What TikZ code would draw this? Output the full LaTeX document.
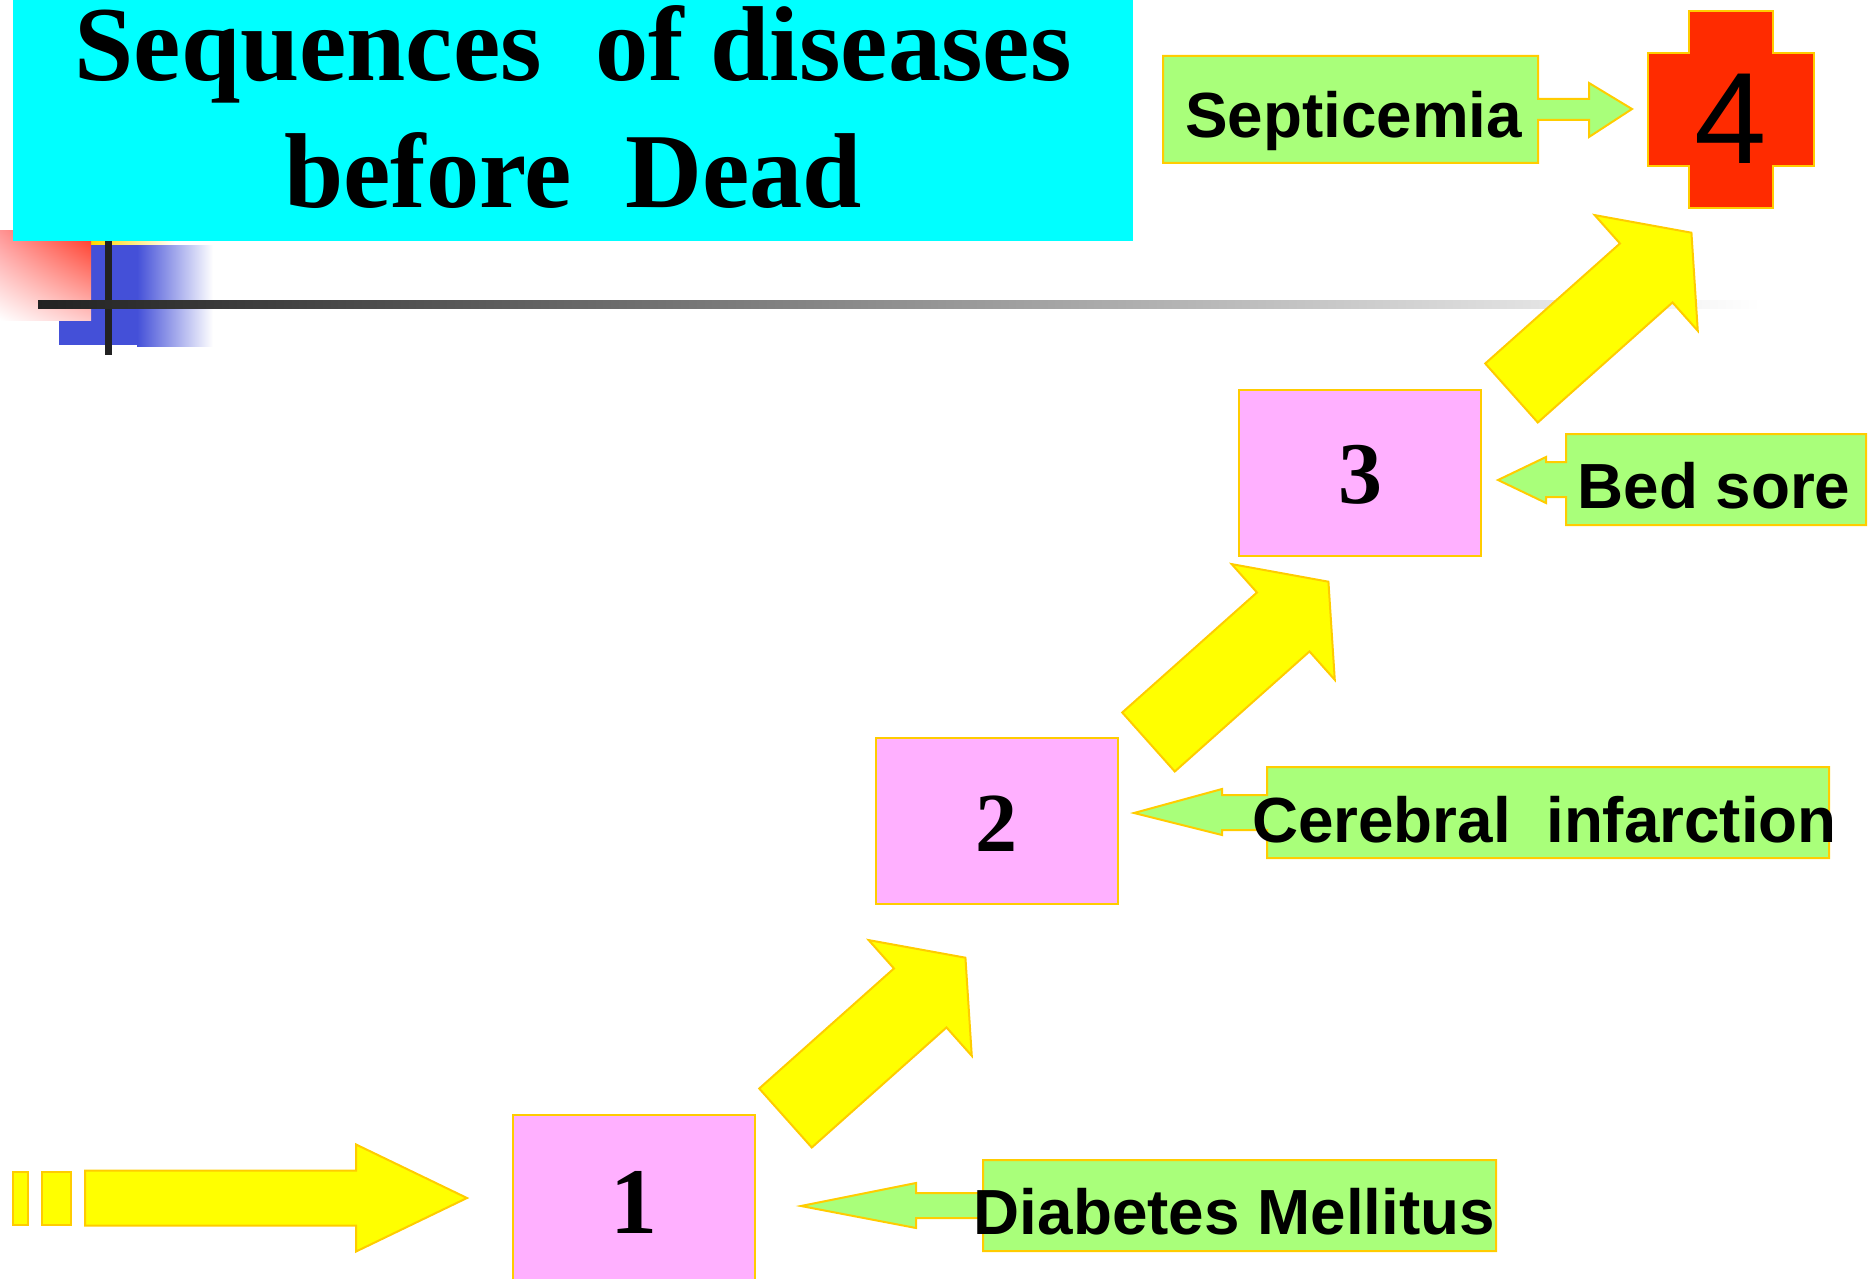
\documentclass[tikz,border=0pt]{standalone}
\usepackage{fontspec}
\setmainfont{Liberation Serif}
\newfontfamily\arialfont{Liberation Sans}
\definecolor{goldline}{RGB}{255,204,0}
\definecolor{titlecyan}{RGB}{0,255,255}
\definecolor{arrowyellow}{RGB}{255,255,0}
\definecolor{stagepink}{RGB}{255,176,255}
\definecolor{causegreen}{RGB}{169,255,122}
\definecolor{deadred}{RGB}{255,43,0}
\definecolor{markred}{RGB}{255,50,30}
\definecolor{markgold}{RGB}{255,215,0}
\definecolor{markblue}{RGB}{68,80,216}
\definecolor{markdark}{RGB}{34,34,34}
\usetikzlibrary{
  shapes.arrows,
  shadings
}

\begin{document}
\begin{tikzpicture}[
  x=1pt, y=-1pt,
  titlebox/.style={rectangle, fill=titlecyan, inner sep=0pt, outer sep=0pt, minimum width=1120pt, minimum height=241pt, align=center, text depth=28pt, font=\bfseries\fontsize{106.5}{127}\selectfont},
  stage/.style={rectangle, draw=goldline, line width=2pt, fill=stagepink, inner sep=0pt, outer sep=0pt, minimum width=242pt, minimum height=166pt},
  stagearrow/.style={single arrow, draw=goldline, line width=2pt, fill=arrowyellow, inner xsep=0pt, inner ysep=38.5pt, outer sep=0pt, anchor=tail, rotate=41.7, minimum height=241pt, single arrow head extend=38pt, single arrow tip angle=104},
  startarrow/.style={single arrow, draw=goldline, line width=2pt, fill=arrowyellow, inner xsep=0pt, inner ysep=26.5pt, outer sep=0pt, anchor=tail, minimum height=382pt, single arrow head extend=26pt, single arrow tip angle=51.5},
  startbar/.style={rectangle, draw=goldline, line width=2pt, fill=arrowyellow, inner sep=0pt, outer sep=0pt, minimum height=53pt},
  cause/.style={draw=goldline, line width=2pt, fill=causegreen, line join=miter},
  causetext/.style={inner sep=0pt, anchor=base, font=\arialfont\bfseries\fontsize{63.8}{64}\selectfont},
  dead/.style={draw=goldline, line width=2pt, fill=deadred},
  deadtext/.style={inner sep=0pt, anchor=base, font=\arialfont\fontsize{130}{130}\selectfont},
  markbar/.style={fill=markdark}
]
  \useasboundingbox (0,0) rectangle (1872,1279);
  \clip (0,0) rectangle (1872,1279);

  \shade[left color=markgold, right color=white] (91,241) rectangle (175,246);
  \fill[markblue] (59,245) rectangle (137,345);
  \shade[left color=markblue, right color=white] (137,245) rectangle (213,346);
  \shade[upper right=markred, upper left=red!42, lower left=white, lower right=red!22] (0,230) rectangle (91,320);
  \node[titlebox] (title) at (573,120.5) {Sequences\ \ of diseases\\before\ \ Dead};
  \fill[markbar] (105,241) rectangle (112,355);
  \shade[left color=markdark, middle color=black!24, right color=white] (38,300) rectangle (1760,308);

  \node[startbar, minimum width=15pt] (bar1) at (20.5,1198) {};
  \node[startbar, minimum width=29pt] (bar2) at (56.5,1198) {};
  \node[startarrow] (start) at (85,1198) {};

  \node[stage, text height=70pt, font=\bfseries\fontsize{94}{94}\selectfont] (stage1) at (634,1198) {1};
  \node[stage, text height=61pt, font=\bfseries\fontsize{84}{84}\selectfont] (stage2) at (996.5,820.5) {2};
  \node[stage, text height=63pt, font=\bfseries\fontsize{88}{88}\selectfont] (stage3) at (1360,472.5) {3};

  \node[stagearrow] (up1) at (785.5,1118) {};
  \node[stagearrow] (up2) at (1148.5,742) {};
  \node[stagearrow] (up3) at (1511.5,393) {};

  \draw[cause] (983,1160) -- (1496,1160) -- (1496,1251) -- (983,1251) -- (983,1218) -- (916,1218) -- (916,1228) -- (801,1206) -- (916,1183) -- (916,1193) -- (983,1193) -- cycle;
  \node[causetext] (diabetes) at (1234.5,1234) {Diabetes Mellitus};

  \draw[cause] (1267,767) -- (1829,767) -- (1829,858) -- (1267,858) -- (1267,830) -- (1222,830) -- (1222,835) -- (1134,813) -- (1222,789) -- (1222,795) -- (1267,795) -- cycle;
  \node[causetext] (cerebral) at (1544.5,842) {Cerebral\ \ infarction};

  \draw[cause] (1566,434) -- (1866,434) -- (1866,525) -- (1566,525) -- (1566,497) -- (1546,497) -- (1546,503) -- (1498,480) -- (1546,457) -- (1546,462) -- (1566,462) -- cycle;
  \node[causetext] (bedsore) at (1714,508) {Bed sore};

  \draw[cause] (1163,56) -- (1538,56) -- (1538,99) -- (1589,99) -- (1589,83) -- (1632,109) -- (1589,137) -- (1589,120) -- (1538,120) -- (1538,163) -- (1163,163) -- cycle;
  \node[causetext] (septicemia) at (1353.5,138) {Septicemia};

  \draw[dead] (1689,11) -- (1773,11) -- (1773,53) -- (1814,53) -- (1814,166) -- (1773,166) -- (1773,208) -- (1689,208) -- (1689,166) -- (1648,166) -- (1648,53) -- (1689,53) -- cycle;
  \node[deadtext] (stage4) at (1731,164) {4};
\end{tikzpicture}
\end{document}
